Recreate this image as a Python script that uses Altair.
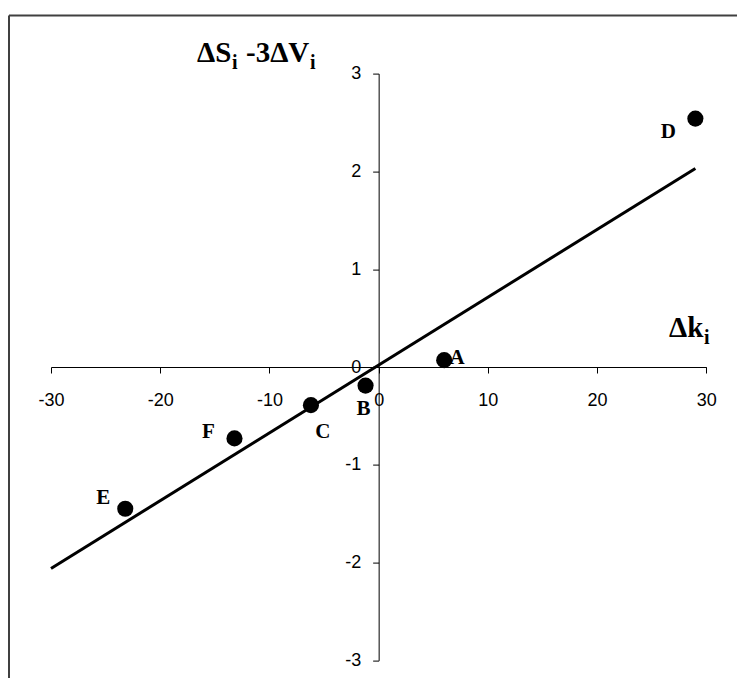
import altair as alt
import pandas as pd

# ---- data ----
labels = ["A", "B", "C", "D", "E", "F"]
dk = [6.0, -1.2, -6.2, 29.0, -23.2, -13.2]
ds_3dv = [0.07, -0.19, -0.39, 2.54, -1.45, -0.73]

line_x = [-30.0, 29.0]
line_y = [-2.06, 2.03]

x_ticks = [-30, -20, -10, 0, 10, 20, 30]
y_ticks = [-3, -2, -1, 0, 1, 2, 3]

# ---- layout / style constants ----
W, H = 655.3, 586.8
PAD_L, PAD_T = 43, 65.6
PAD_R = 729 - PAD_L - W
PAD_B = 670 - PAD_T - H

label_offsets = {"A": (13, -2), "B": (-2, 23), "C": (12, 27),
                 "D": (-27, 13), "E": (-22, -11), "F": (-26, -6)}

pts = pd.DataFrame({"label": labels, "dk": dk, "dsv": ds_3dv})
line_df = pd.DataFrame({"dk": line_x, "dsv": line_y})
one = pd.DataFrame({"a": [0]})

xscale = alt.Scale(domain=[-30, 30], nice=False, zero=False)
yscale = alt.Scale(domain=[-3, 3], nice=False, zero=False)

axis_common = dict(grid=False, title=None, domainColor="#000000", tickColor="#000000",
                   labelColor="#000000", labelFont="Liberation Sans", labelFontSize=18,
                   tickSize=6, domainWidth=1, tickWidth=1, labelOverlap=False,
                   labelExpr="toString(datum.value)")

xaxis = alt.Axis(values=x_ticks, offset=-H / 2, labelPadding=18, labelFlush=False, **axis_common)
yaxis = alt.Axis(values=y_ticks, offset=-W / 2, labelPadding=12, labelFlush=False, **axis_common)

X = alt.X("dk:Q", scale=xscale, axis=xaxis)
Y = alt.Y("dsv:Q", scale=yscale, axis=yaxis)

line = alt.Chart(line_df).mark_line(color="#000000", strokeWidth=3).encode(x=X, y=Y)
points = alt.Chart(pts).mark_circle(size=260, color="#000000", opacity=1).encode(x=X, y=Y)

label_layers = []
for lab in labels:
    dx, dy = label_offsets[lab]
    label_layers.append(
        alt.Chart(pts).transform_filter(alt.datum.label == lab)
        .mark_text(font="Liberation Serif", fontWeight="bold", fontSize=21, color="#000000",
                   align="center", baseline="middle", dx=dx, dy=dy)
        .encode(x=X, y=Y, text="label:N")
    )

def txt(s, x, y, size):
    return alt.Chart(one).mark_text(text=s, font="Liberation Serif", fontWeight="bold",
                                    fontSize=size, color="#000000", align="left",
                                    baseline="alphabetic").encode(x=alt.value(x), y=alt.value(y))

titles = [
    txt("ΔS", 146, -12, 29),
    txt("i", 181, -5, 20),
    txt("-3ΔV", 195, -12, 29),
    txt("i", 259, -5, 20),
    txt("Δk", 618, 263, 29),
    txt("i", 653, 270, 20),
]

frame_top = alt.Chart(one).mark_rule(color="#404040", strokeWidth=2).encode(
    x=alt.value(-42), x2=alt.value(720), y=alt.value(-58))
frame_left = alt.Chart(one).mark_rule(color="#404040", strokeWidth=2).encode(
    x=alt.value(-42), y=alt.value(-58), y2=alt.value(700))

chart = alt.layer(frame_top, frame_left, line, points, *label_layers, *titles).properties(
    width=W, height=H,
    autosize=alt.AutoSizeParams(type="none"),
    padding={"left": PAD_L, "top": PAD_T, "right": PAD_R, "bottom": PAD_B},
    background="white",
).configure_view(strokeWidth=0, strokeOpacity=0)

chart.save("out.html", embed_options={"renderer": "svg", "actions": False})
